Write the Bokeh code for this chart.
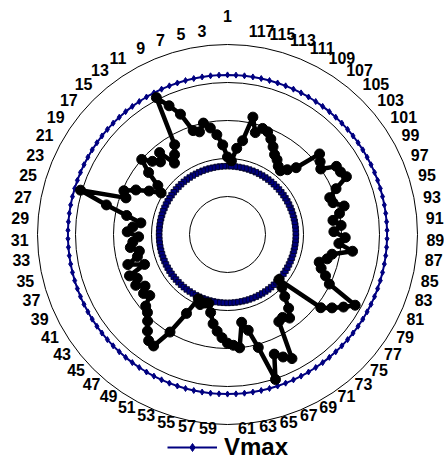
import numpy as np
from bokeh.plotting import figure
from bokeh.models import Legend, LegendItem, ColumnDataSource
from bokeh.embed import file_html
from bokeh.resources import INLINE
from bokeh.core.properties import value

# ---------------- data ----------------
categories = list(range(1, 119))
voltage = [
    0.952, 0.968, 0.982, 0.992, 1.000, 0.990, 0.994, 1.020, 1.036, 1.053,
    0.987, 0.976, 0.967, 0.990, 0.980, 0.988, 1.000, 0.982, 0.962, 0.953,
    0.968, 0.984, 0.998, 0.992, 1.052, 1.014, 0.985, 0.965, 0.975, 0.982,
    0.967, 0.975, 0.979, 0.968, 0.972, 0.987, 0.966, 0.990, 0.982, 0.988,
    0.978, 0.985, 0.980, 0.993, 0.997, 1.005, 1.015, 1.024, 1.026, 0.999,
    0.967, 0.943, 0.949, 0.945, 0.944, 0.955, 0.969, 0.978, 0.986, 0.993,
    0.996, 1.000, 0.967, 0.979, 1.004, 1.051, 1.019, 1.027, 1.034, 0.983,
    0.981, 0.987, 0.976, 0.961, 0.950, 0.940, 1.006, 1.018, 1.030, 1.042,
    0.999, 0.990, 0.981, 0.976, 0.985, 0.990, 1.016, 0.997, 1.005, 0.990,
    1.000, 0.990, 1.000, 1.008, 0.995, 0.993, 1.005, 1.024, 1.020, 1.019,
    1.000, 1.005, 1.011, 0.976, 0.966, 0.959, 0.962, 0.968, 0.972, 0.980,
    0.988, 0.995, 0.997, 0.989, 1.008, 0.975, 0.964, 0.947,
]
vmax_value = 1.06
vmin_value = 0.94
vmax = [vmax_value] * len(categories)
vmin = [vmin_value] * len(categories)
ring_levels = [0.90, 0.95, 1.00, 1.05, 1.10]
axis_min = 0.85
tick_labels = [str(c) for c in categories if c % 2 == 1]

# ---------------- geometry ----------------
SCALE = 760.0          # px per volt
n = len(categories)
theta = 2 * np.pi * np.arange(n) / n


def polar(vals):
    r = (np.asarray(vals) - axis_min) * SCALE
    x = -r * np.sin(theta)
    y = r * np.cos(theta)
    return np.append(x, x[0]), np.append(y, y[0]), x, y


W, H = 444, 462
CX, CY = 227, 234
p = figure(width=W, height=H, x_range=(-CX, W - CX), y_range=(-(H - CY), CY),
           output_backend="svg", toolbar_location=None, min_border=0)
p.axis.visible = False
p.grid.visible = False
p.outline_line_color = None
p.background_fill_color = "white"
p.border_fill_color = "white"

# rings
for lv in ring_levels:
    p.circle(x=0, y=0, radius=(lv - axis_min) * SCALE, fill_color=None,
             line_color="black", line_width=1)

navy = "#000080"

# Vmin
lx, ly, mx, my = polar(vmin)
p.line(lx, ly, line_color=navy, line_width=1)
p.scatter(mx, my, marker="square", size=5.5, fill_color=navy, line_color="#000020",
          line_width=0.8)

# Vmax
lx, ly, mx, my = polar(vmax)
vmax_line = p.line(lx, ly, line_color=navy, line_width=2)
vmax_pts = p.scatter(mx, my, marker="diamond", size=6, fill_color=navy, line_color=navy)

# voltage series
lx, ly, mx, my = polar(voltage)
p.line(lx, ly, line_color="black", line_width=4.5, line_join="round")
p.scatter(mx, my, marker="circle", size=10, fill_color="black", line_color="black")

# category labels
lab_x, lab_y, lab_t, lab_a = [], [], [], []
for c in categories:
    if c % 2 == 0:
        continue
    i = c - 1
    th = theta[i]
    ux = -np.sin(th)
    uy_page = -np.cos(th)
    if abs(ux) < 0.01:
        xx = 0.0
        al = "center"
    else:
        xx = 199 * ux
        al = "left" if ux > 0 else "right"
    yy = -(uy_page * 205 - 11 * max(uy_page, 0))
    if abs(ux) < 0.01 and uy_page < 0:
        yy += 14
    lab_x.append(xx)
    lab_y.append(yy)
    lab_t.append(str(c))
    lab_a.append(al)

src = ColumnDataSource(dict(x=lab_x, y=lab_y, t=lab_t, a=lab_a))
p.text(x="x", y="y", text="t", text_align="a", text_baseline="middle",
       text_font=value("Liberation Sans"), text_font_style="bold",
       text_font_size="16px", text_color="black", source=src)

legend = Legend(items=[LegendItem(label="Vmax", renderers=[vmax_line, vmax_pts])],
                location=(167, 1), orientation="horizontal",
                label_text_font="Liberation Sans", label_text_font_style="bold",
                label_text_font_size="24px", label_text_color="black",
                glyph_width=50, glyph_height=20,
                label_standoff=7, padding=0, margin=0, spacing=0,
                border_line_color=None, background_fill_alpha=0)
p.add_layout(legend, "center")

open("out.html", "w").write(file_html(p, INLINE))
